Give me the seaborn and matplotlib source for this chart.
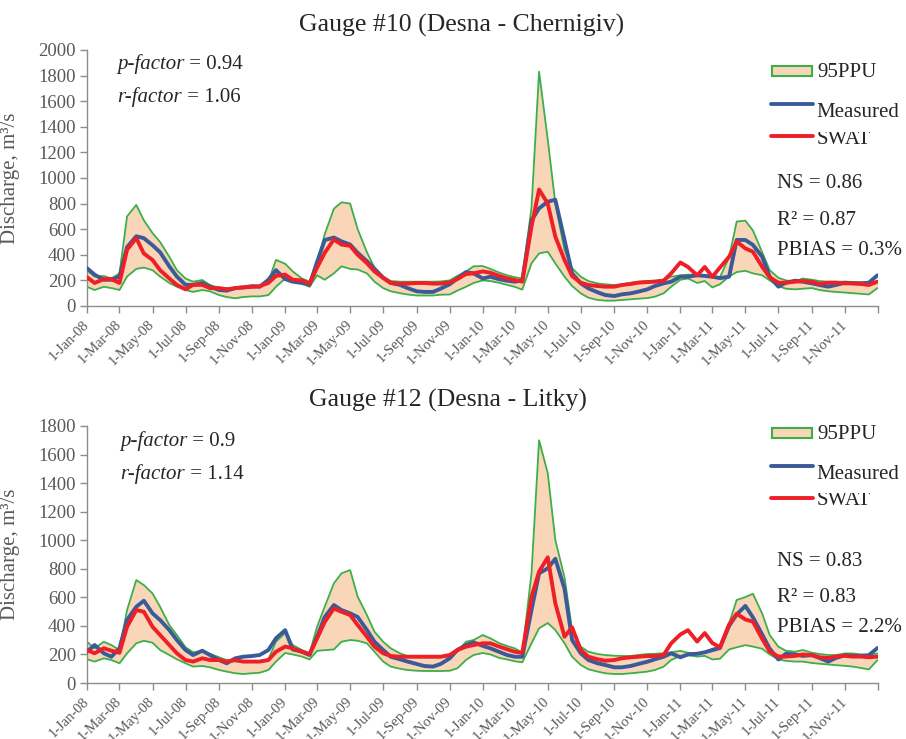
import pandas as pd
import matplotlib
matplotlib.use("Agg")
import matplotlib.pyplot as plt
from matplotlib.patches import Rectangle
from matplotlib.lines import Line2D
from matplotlib.transforms import Bbox, TransformedBbox
import seaborn as sns

# Semi-monthly sampling dates (1st and 15th), closing on the last day of 2011
dates = pd.date_range("2008-01-01", "2011-12-15", freq="SMS").append(
    pd.DatetimeIndex(["2011-12-31"]))

# ---- Gauge #10 (Desna - Chernigiv), discharge in m3/s ----
g10_upper = ([281, 230, 235, 215, 255, 700, 790, 670, 570, 500, 385, 280, 215, 190, 203, 165, 140, 140, 140, 145, 145, 150, 190, 360]
             + [330, 270, 215, 190, 330, 560, 760, 810, 800, 600, 420, 300, 230, 195, 190, 190, 190, 190, 190, 192, 200, 235, 270, 310]
             + [312, 290, 260, 240, 225, 215, 770, 1830, 1300, 803, 437, 295, 229, 195, 177, 169, 164, 169, 182, 190, 195, 198, 205, 229]
             + [240, 245, 245, 240, 235, 225, 380, 660, 667, 590, 420, 280, 220, 200, 190, 215, 205, 195, 190, 190, 190, 188, 185, 180]
             + [195])
g10_lower = ([150, 125, 150, 140, 125, 230, 290, 300, 280, 230, 180, 150, 125, 110, 125, 115, 85, 70, 60, 70, 75, 75, 85, 150]
             + [215, 205, 180, 150, 240, 205, 255, 310, 290, 285, 255, 190, 140, 115, 100, 90, 82, 82, 82, 88, 90, 120, 150, 180]
             + [200, 195, 180, 165, 150, 128, 333, 411, 424, 333, 229, 156, 99, 65, 47, 42, 42, 47, 52, 57, 62, 73, 99, 151]
             + [205, 215, 180, 195, 145, 170, 230, 265, 275, 255, 240, 200, 155, 135, 130, 135, 140, 125, 115, 110, 105, 100, 95, 90]
             + [140])
g10_measured = ([295, 245, 205, 205, 230, 460, 545, 530, 475, 420, 310, 230, 165, 165, 180, 150, 125, 120, 140, 145, 155, 150, 205, 280]
                + [210, 190, 180, 165, 345, 515, 535, 505, 480, 415, 350, 290, 220, 180, 165, 140, 115, 110, 110, 135, 170, 215, 265, 255]
                + [215, 229, 208, 198, 190, 200, 669, 763, 815, 830, 516, 255, 177, 138, 107, 86, 78, 91, 99, 112, 130, 156, 177, 190]
                + [229, 229, 240, 235, 229, 218, 229, 516, 516, 477, 385, 229, 151, 182, 198, 190, 177, 164, 151, 164, 182, 177, 177, 182]
                + [240])
g10_swat = ([225, 180, 210, 210, 180, 440, 530, 410, 360, 280, 215, 165, 130, 165, 165, 140, 140, 130, 140, 145, 150, 155, 180, 235]
            + [245, 205, 200, 175, 300, 415, 520, 480, 470, 400, 335, 270, 220, 180, 175, 175, 180, 180, 175, 175, 185, 210, 250, 255]
            + [270, 260, 234, 216, 203, 190, 620, 910, 800, 542, 359, 234, 182, 164, 156, 151, 151, 164, 172, 182, 187, 190, 198, 255]
            + [340, 305, 240, 305, 229, 300, 385, 503, 450, 424, 307, 224, 182, 182, 190, 195, 190, 172, 182, 182, 177, 177, 172, 164]
            + [190])

# ---- Gauge #12 (Desna - Litky), discharge in m3/s ----
g12_upper = ([289, 243, 289, 266, 231, 511, 721, 686, 627, 534, 406, 336, 250, 215, 225, 205, 180, 160, 150, 150, 150, 155, 165, 289]
             + [350, 266, 231, 208, 394, 534, 698, 768, 791, 604, 476, 359, 289, 243, 208, 189, 184, 180, 180, 180, 184, 219, 289, 301]
             + [336, 313, 278, 259, 243, 212, 768, 1700, 1470, 1001, 740, 370, 254, 219, 203, 196, 191, 189, 189, 196, 203, 205, 208, 215]
             + [225, 212, 207, 219, 240, 255, 418, 581, 602, 625, 487, 336, 254, 226, 219, 231, 212, 203, 196, 196, 207, 207, 200, 196]
             + [207])
g12_lower = ([166, 150, 173, 161, 138, 208, 278, 296, 282, 231, 196, 166, 138, 115, 119, 110, 91, 80, 68, 63, 68, 72, 91, 150]
             + [210, 200, 185, 165, 225, 230, 235, 289, 301, 296, 278, 219, 150, 115, 100, 91, 86, 84, 84, 84, 86, 103, 161, 196]
             + [210, 200, 175, 165, 152, 145, 278, 383, 420, 371, 278, 184, 126, 96, 80, 68, 63, 63, 68, 73, 80, 91, 114, 161]
             + [190, 195, 185, 190, 165, 170, 235, 250, 265, 255, 240, 200, 165, 155, 150, 150, 140, 135, 130, 125, 120, 115, 105, 95]
             + [160])
g12_measured = ([219, 266, 208, 184, 243, 441, 534, 576, 488, 441, 371, 301, 231, 196, 226, 196, 161, 138, 173, 184, 189, 196, 231, 313]
                + [370, 235, 219, 196, 324, 462, 546, 511, 488, 462, 371, 289, 231, 184, 166, 150, 133, 119, 115, 133, 173, 231, 266, 285]
                + [260, 243, 217, 196, 184, 184, 511, 768, 803, 870, 660, 301, 208, 161, 138, 126, 110, 110, 119, 133, 149, 166, 184, 208]
                + [180, 200, 205, 215, 230, 245, 400, 480, 540, 460, 340, 240, 165, 205, 200, 190, 195, 175, 150, 175, 195, 190, 190, 195]
                + [245])
g12_swat = ([231, 208, 243, 226, 212, 394, 511, 499, 394, 336, 266, 208, 161, 150, 173, 161, 161, 150, 161, 150, 150, 150, 161, 219]
            + [255, 243, 219, 203, 312, 427, 522, 499, 476, 406, 324, 254, 208, 189, 184, 184, 184, 184, 184, 184, 196, 231, 254, 266]
            + [278, 278, 254, 236, 219, 212, 604, 780, 880, 558, 324, 390, 231, 184, 166, 156, 161, 173, 180, 184, 189, 189, 196, 278]
            + [340, 370, 290, 350, 280, 250, 410, 485, 445, 430, 310, 220, 185, 185, 190, 200, 195, 180, 175, 185, 190, 185, 185, 180]
            + [185])

titles = ["Gauge #10 (Desna - Chernigiv)", "Gauge #12 (Desna - Litky)"]
p_factors = ["0.94", "0.9"]
r_factors = ["1.06", "1.14"]
ns_values = ["0.86", "0.83"]
r2_values = ["0.87", "0.83"]
pbias_values = ["0.3%", "2.2%"]
y_maxes = [2000, 1800]
legend_labels = ["95PPU", "Measured", "SWAT"]

tick_dates = pd.date_range("2008-01-01", "2012-01-01", freq="2MS")
tick_labels = [f"{d.day}-{d:%b-%y}" for d in tick_dates[:-1]] + [""]

FILL = "#F9D6B7"
GREEN = "#3CAF4A"
BLUE = "#3B5B98"
RED = "#EE1F26"
AXIS = "#8C8C8C"
TICK_TXT = "#595959"
TXT = "#262626"

sns.set_theme(style="white")
plt.rcParams["font.family"] = ["Liberation Serif", "DejaVu Serif"]

W, H = 906, 739
fig = plt.figure(figsize=(W / 100, H / 100), dpi=100)


def fx(px):
    return px / W


def fy(py):
    return 1 - py / H


panels = [
    dict(data=(g10_upper, g10_lower, g10_measured, g10_swat), ax_top=50, ax_bot=306,
         title_x=462, title_y=32, pf_y=69, rf_y=102, pf_x=117,
         leg=(71, 77, 104, 117, 136, 144, 132), stats=(188, 225, 255)),
    dict(data=(g12_upper, g12_lower, g12_measured, g12_swat), ax_top=426, ax_bot=683,
         title_x=448, title_y=407, pf_x=120, pf_y=446, rf_y=479,
         leg=(433, 439, 466, 479, 498, 505, 493), stats=(566, 602, 632)),
]

italic_parts = []
for i, p in enumerate(panels):
    upper, lower, meas, swat = p["data"]
    ax = fig.add_axes([fx(87), fy(p["ax_bot"]), fx(878) - fx(87), (p["ax_bot"] - p["ax_top"]) / H])

    ax.fill_between(dates, lower, upper, color=FILL, lw=0, zorder=1)
    ax.plot(dates, upper, color=GREEN, lw=1.3, zorder=2)
    ax.plot(dates, lower, color=GREEN, lw=1.3, zorder=2)

    df = pd.DataFrame({"date": dates, "Measured": meas, "SWAT": swat}).melt(
        "date", var_name="series", value_name="discharge")
    sns.lineplot(data=df, x="date", y="discharge", hue="series",
                 palette={"Measured": BLUE, "SWAT": RED}, linewidth=2.8,
                 legend=False, ax=ax, zorder=3)

    ax.set_xlim(tick_dates[0], tick_dates[-1])
    ax.set_ylim(0, y_maxes[i])
    ax.set_yticks(range(0, y_maxes[i] + 1, 200))
    ax.set_xticks(tick_dates)
    ax.set_xticklabels(tick_labels, rotation=45, ha="right", va="center",
                       rotation_mode="anchor", fontsize=10.5, color=TICK_TXT)
    ax.tick_params(axis="y", labelsize=13.5, labelcolor=TICK_TXT)
    ax.tick_params(axis="both", direction="out", length=5, width=1, color=AXIS,
                   left=True, bottom=True)
    ax.tick_params(axis="x", pad=7)
    ax.tick_params(axis="y", pad=3)
    for side in ("top", "right"):
        ax.spines[side].set_visible(False)
    for side in ("left", "bottom"):
        ax.spines[side].set_color(AXIS)
        ax.spines[side].set_linewidth(1)
    ax.set_xlabel("")
    ax.set_ylabel("Discharge, m³/s", fontsize=15, color=TICK_TXT)
    ax.yaxis.set_label_coords((20 - 87) / 791, 0.5)
    ax.grid(False)

    # panel title
    fig.text(fx(p["title_x"]), fy(p["title_y"]), titles[i], ha="center", va="baseline",
             fontsize=18.5, color=TXT)

    # uncertainty indices
    t1 = fig.text(fx(p["pf_x"]), fy(p["pf_y"]), "p-factor", style="italic",
                  fontsize=15, color=TXT, va="baseline")
    t2 = fig.text(fx(p["pf_x"]), fy(p["rf_y"]), "r-factor", style="italic",
                  fontsize=15, color=TXT, va="baseline")
    italic_parts.append((t1, " = " + p_factors[i], p["pf_y"]))
    italic_parts.append((t2, " = " + r_factors[i], p["rf_y"]))

    # goodness-of-fit statistics
    ns_y, r2_y, pb_y = p["stats"]
    fig.text(fx(777), fy(ns_y), "NS = " + ns_values[i], fontsize=15, color=TXT, va="baseline")
    fig.text(fx(777), fy(r2_y), "R² = " + r2_values[i], fontsize=15, color=TXT, va="baseline")
    fig.text(fx(777), fy(pb_y), "PBIAS = " + pbias_values[i], fontsize=15, color=TXT, va="baseline")

    # legend
    patch_y, ppu_base, meas_y, meas_base, swat_y, swat_base, swat_clip = p["leg"]
    fig.add_artist(Rectangle((fx(772), fy(patch_y + 5)), fx(812) - fx(772), 10 / H,
                             transform=fig.transFigure, facecolor=FILL, edgecolor=GREEN, lw=1.5))
    fig.text(fx(817), fy(ppu_base), legend_labels[0], fontsize=15, color=TXT, va="baseline")
    fig.add_artist(Line2D([fx(771), fx(813)], [fy(meas_y), fy(meas_y)],
                          transform=fig.transFigure, color=BLUE, lw=2.8))
    fig.text(fx(816), fy(meas_base), legend_labels[1], fontsize=15, color=TXT, va="baseline")
    fig.add_artist(Line2D([fx(771), fx(813)], [fy(swat_y), fy(swat_y)],
                          transform=fig.transFigure, color=RED, lw=2.8))
    st = fig.text(fx(817), fy(swat_base), legend_labels[2], fontsize=15, color=TXT, va="baseline")
    st.set_clip_box(TransformedBbox(Bbox.from_extents(fx(800), 0, 1, fy(swat_clip)),
                                    fig.transFigure))
    st.set_clip_on(True)

fig.canvas.draw()
renderer = fig.canvas.get_renderer()
for t, rest, base in italic_parts:
    bb = t.get_window_extent(renderer)
    fig.text(bb.x1 / fig.bbox.width, fy(base), rest, fontsize=15, color=TXT, va="baseline")

fig.savefig("out.png", dpi=100)
